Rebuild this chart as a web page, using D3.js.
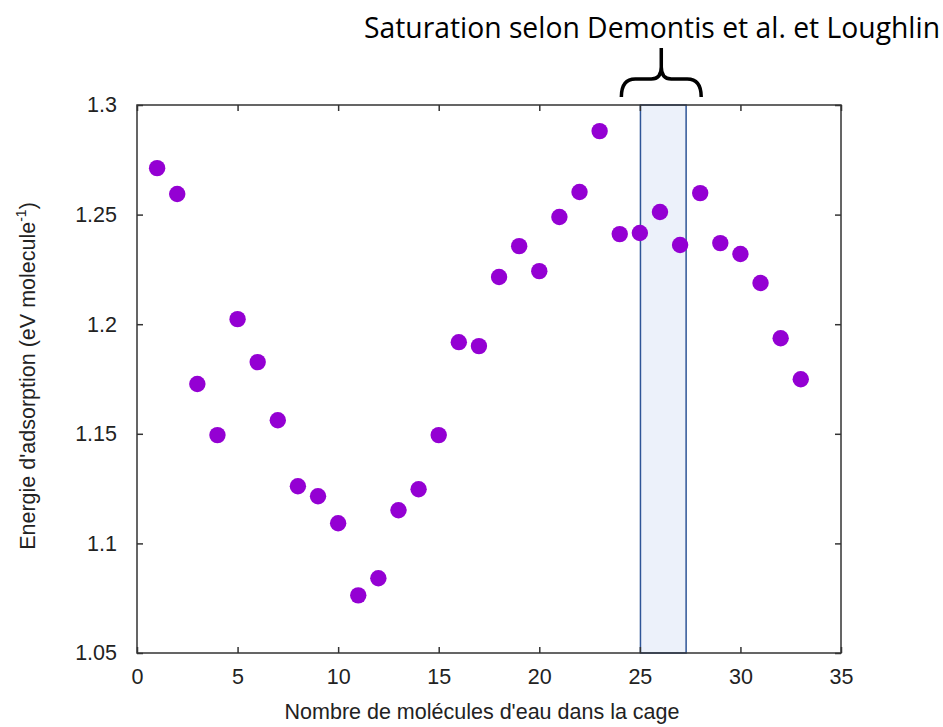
<!DOCTYPE html>
<html><head><meta charset="utf-8">
<script src="https://cdn.jsdelivr.net/npm/d3@7"></script>
<style>body{margin:0;background:#fff}svg{display:block}</style>
</head><body>
<svg id="c" width="943" height="727"></svg>
<script>
const nWater = d3.range(1, 34);
const energy = [1.2712,1.2594,1.1727,1.1494,1.2023,1.1827,1.1562,1.1261,1.1215,1.1092,
  1.0763,1.0841,1.1151,1.1247,1.1494,1.1918,1.1900,1.2215,1.2356,1.2242,
  1.2489,1.2603,1.2881,1.2411,1.2416,1.2512,1.2361,1.2598,1.2370,1.2320,
  1.2188,1.1936,1.1749];
const xTicks = [0,5,10,15,20,25,30,35];
const yTicks = [1.05,1.1,1.15,1.2,1.25,1.3];
const satRange = [25.03, 27.3];
const braceRange = [24.08, 28.05];
const title = "Saturation selon Demontis et al. et Loughlin";

const svg = d3.select("#c");
const L=137, R=841, T=105, B=653;
const x = d3.scaleLinear().domain([0,35]).range([L,R]);
const y = d3.scaleLinear().domain([1.05,1.3]).range([B,T]);
const font = "Liberation Sans, Arial, sans-serif";
const fs = 21.5;
const axisCol = "#333";

// saturation box
svg.append("rect").attr("x", x(satRange[0])).attr("y", T)
  .attr("width", x(satRange[1]) - x(satRange[0])).attr("height", B - T)
  .attr("fill", "#ecf1fa").attr("stroke", "#2f5597").attr("stroke-width", 1.5);

// frame
svg.append("rect").attr("x",L).attr("y",T).attr("width",R-L).attr("height",B-T)
  .attr("fill","none").attr("stroke",axisCol).attr("stroke-width",1.5);

// axes with mirrored ticks
const gx = svg.append("g").attr("transform",`translate(0,${B})`)
  .call(d3.axisBottom(x).tickValues(xTicks).tickSize(-6).tickPadding(16).tickFormat(d3.format("d")));
const gxt = svg.append("g").attr("transform",`translate(0,${T})`)
  .call(d3.axisTop(x).tickValues(xTicks).tickSize(-6).tickFormat(""));
const gy = svg.append("g").attr("transform",`translate(${L},0)`)
  .call(d3.axisLeft(y).tickValues(yTicks).tickSize(-6).tickPadding(20).tickFormat(d => String(+d.toFixed(2))));
const gyr = svg.append("g").attr("transform",`translate(${R},0)`)
  .call(d3.axisRight(y).tickValues(yTicks).tickSize(-6).tickFormat(""));
[gx,gxt,gy,gyr].forEach(g=>{
  g.select(".domain").remove();
  g.selectAll(".tick line").attr("stroke",axisCol).attr("stroke-width",1.5);
  g.selectAll("text").attr("font-family",font).attr("font-size",fs).attr("fill","#222");
});

// points
svg.append("g").selectAll("circle").data(nWater).join("circle")
  .attr("cx", d => x(d)).attr("cy", (d,i) => y(energy[i])).attr("r", 8.2)
  .attr("fill", "#9400d3");

// axis titles
svg.append("text").attr("x", 482).attr("y", 719).attr("text-anchor","middle")
  .attr("font-family",font).attr("font-size",fs).attr("fill","#222")
  .text("Nombre de molécules d'eau dans la cage");
const yt = svg.append("text").attr("transform","translate(35,376) rotate(-90)")
  .attr("text-anchor","middle").attr("font-family",font).attr("font-size",fs).attr("fill","#222");
yt.append("tspan").text("Energie d'adsorption (eV molecule");
yt.append("tspan").attr("dy",-9).attr("font-size",14).text("-1");
yt.append("tspan").attr("dy",9).text(")");

// annotation title and brace
svg.append("text").attr("x", 940).attr("y", 38).attr("text-anchor","end")
  .attr("font-family","Open Sans, sans-serif").attr("font-size",28.3).attr("fill","#000")
  .text(title);
const bx0 = x(braceRange[0]), bx1 = x(braceRange[1]), bm = (bx0+bx1)/2, by0 = 97, by1 = 48;
svg.append("path")
  .attr("d", `M${bx0},${by0} Q${bx0},${by0-18} ${bx0+14},${by0-18} L${bm-10},${by0-18} Q${bm},${by0-18} ${bm},${by0-30} L${bm},${by1}
              M${bm},${by0-30} Q${bm},${by0-18} ${bm+10},${by0-18} L${bx1-14},${by0-18} Q${bx1},${by0-18} ${bx1},${by0}`)
  .attr("fill","none").attr("stroke","#000").attr("stroke-width",3.5);
</script>
</body></html>
